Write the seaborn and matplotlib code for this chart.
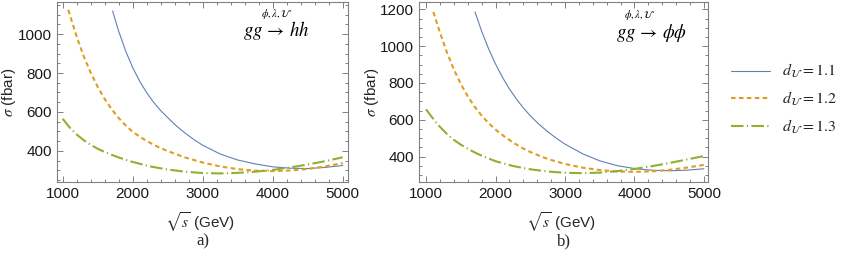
import numpy as np
import pandas as pd
import seaborn as sns
import matplotlib.pyplot as plt
from matplotlib.ticker import MultipleLocator

# sqrt(s) in GeV, sigma in fbar
# panel a) gg -> hh
hh_x_11 = [1713, 1800, 1900, 2000, 2100, 2200, 2300, 2400, 2500, 2625, 2750, 2875, 3000, 3250, 3500, 3750, 4000, 4250, 4500, 4750, 5000]
hh_y_11 = [1119, 1015, 913, 828, 758, 699, 649, 607, 571, 528, 491, 458, 429, 384, 353, 333, 318, 311, 309, 315, 325]
hh_x_12 = [1080, 1200, 1300, 1400, 1500, 1600, 1700, 1800, 1900, 2000, 2125, 2250, 2375, 2500, 2750, 3000, 3250, 3500, 3750, 4000, 4250, 4500, 4750, 5000]
hh_y_12 = [1125, 987, 887, 802, 729, 667, 614, 569, 531, 498, 467, 441, 418, 399, 366, 340, 320, 306, 298, 296, 299, 307, 320, 337]
hh_x_13 = [1000, 1100, 1200, 1300, 1400, 1500, 1600, 1800, 2000, 2250, 2500, 2750, 3000, 3250, 3500, 3750, 4000, 4250, 4500, 4750, 5000]
hh_y_13 = [565, 520, 484, 455, 431, 411, 394, 366, 343, 320, 304, 293, 286, 284, 287, 293, 302, 315, 330, 347, 367]

# panel b) gg -> phi phi
pp_x_11 = [1705, 1800, 1900, 2000, 2100, 2200, 2300, 2400, 2500, 2625, 2750, 2875, 3000, 3250, 3500, 3750, 4000, 4250, 4500, 4750, 5000]
pp_y_11 = [1186, 1082, 986, 903, 831, 768, 713, 665, 622, 576, 536, 500, 468, 416, 377, 351, 335, 326, 323, 326, 334]
pp_x_12 = [1105, 1200, 1300, 1400, 1500, 1600, 1700, 1800, 1900, 2000, 2125, 2250, 2375, 2500, 2750, 3000, 3250, 3500, 3750, 4000, 4250, 4500, 4750, 5000]
pp_y_12 = [1186, 1075, 967, 874, 795, 728, 671, 623, 582, 547, 510, 477, 449, 425, 387, 360, 340, 327, 319, 317, 320, 328, 340, 355]
pp_x_13 = [1000, 1100, 1200, 1300, 1400, 1500, 1600, 1700, 1800, 2000, 2250, 2500, 2750, 3000, 3250, 3500, 3750, 4000, 4250, 4500, 4750, 5000]
pp_y_13 = [657, 607, 562, 523, 491, 465, 443, 423, 405, 375, 349, 331, 319, 312, 310, 313, 321, 333, 348, 365, 384, 403]

dims = ["1.1", "1.2", "1.3"]
colors = ["#5E81B5", "#E19C24", "#8FB032"]
styles = ["-", (0, (2.2, 1.6)), (0, (6, 1.6, 0.6, 1.6))]
widths = [0.8, 1.5, 1.5]

sns.set_theme(style="ticks")
plt.rcParams["font.family"] = ["Liberation Sans", "DejaVu Sans"]
plt.rcParams["mathtext.fontset"] = "stix"

fig = plt.figure(figsize=(8.51, 2.66), dpi=100)
ax1 = fig.add_axes([57/851, 84/266, 291/851, 180/266])
ax2 = fig.add_axes([419/851, 84/266, 289/851, 180/266])

panels = [
    (ax1, [(hh_x_11, hh_y_11), (hh_x_12, hh_y_12), (hh_x_13, hh_y_13)],
     (919, 5076), (240, 1165), r"$gg\,\rightarrow\,hh$", (0.639, 0.81), (0.753, 0.935), "a)"),
    (ax2, [(pp_x_11, pp_y_11), (pp_x_12, pp_y_12), (pp_x_13, pp_y_13)],
     (899, 5058), (262, 1240), r"$gg\,\rightarrow\,\phi\phi$", (0.682, 0.80), (0.762, 0.93), "b)"),
]

for ax, series, xl, yl, proc, ppos, spos, tag in panels:
    for (x, y), c, ls, lw in zip(series, colors, styles, widths):
        sns.lineplot(x=x, y=y, ax=ax, color=c, linestyle=ls, linewidth=lw)
    ax.set_xlim(*xl)
    ax.set_ylim(*yl)
    ax.xaxis.set_major_locator(MultipleLocator(1000))
    ax.xaxis.set_minor_locator(MultipleLocator(200))
    ax.yaxis.set_major_locator(MultipleLocator(200))
    ax.yaxis.set_minor_locator(MultipleLocator(50))
    ax.tick_params(which="both", direction="in", top=True, right=True,
                   color="#808080", width=0.7, labelsize=11, labelcolor="#1a1a1a")
    ax.tick_params(which="major", length=4.5)
    ax.tick_params(which="minor", length=2.5)
    for sp in ax.spines.values():
        sp.set_color("#808080")
        sp.set_linewidth(0.8)
    ax.set_xlabel(r"$\sqrt{s}$ (GeV)", fontsize=11)
    ax.set_ylabel(r"$\sigma$ (fbar)", fontsize=11)
    ax.xaxis.set_label_coords(0.49, -0.155)
    ax.yaxis.set_label_coords(-0.133, 0.5)
    ax.text(*ppos, proc, transform=ax.transAxes, fontsize=13.5, color="black", va="baseline")
    ax.text(*spos, r"$\phi,\lambda,\mathcal{U}$", transform=ax.transAxes, fontsize=7.5,
            ha="center", va="center", color="black")
    pos = ax.get_position()
    fig.text(pos.x0 + pos.width / 2, 1 - 241/266, tag, ha="center", va="center",
             fontsize=12, family="Liberation Serif")

handles = ax1.get_lines()[:3]
fig.legend(handles, [r"$d_{\mathcal{U}}=%s$" % d for d in dims],
           loc="center left", bbox_to_anchor=(717/851, 1 - 99/266), frameon=False,
           prop={"family": "Liberation Serif", "size": 11.5}, handlelength=2.4,
           labelspacing=0.6, handletextpad=0.8)

fig.savefig("out.png", dpi=100)
